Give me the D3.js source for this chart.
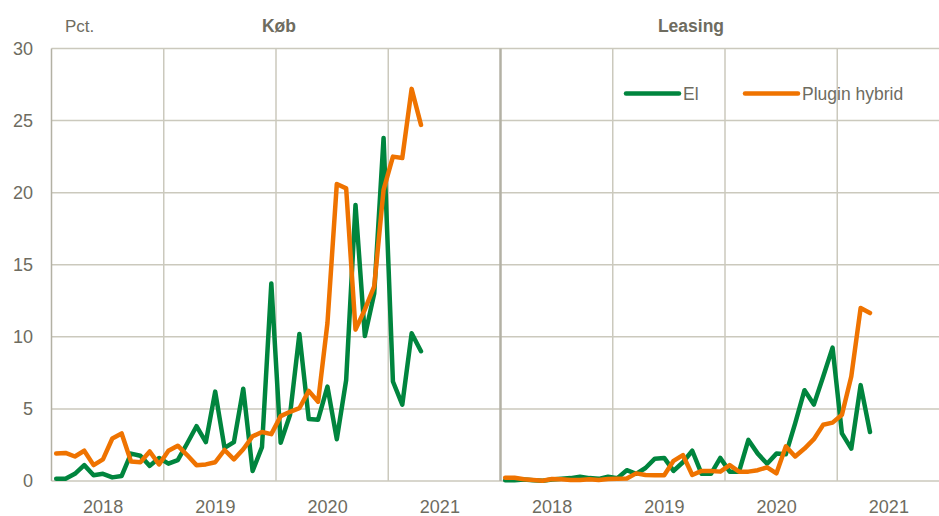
<!DOCTYPE html>
<html>
<head>
<meta charset="utf-8">
<script src="https://cdn.jsdelivr.net/npm/d3@7"></script>
<style>
  html, body { margin: 0; padding: 0; background: #fff; }
  svg { display: block; font-family: "Liberation Sans", Arial, sans-serif; }
</style>
</head>
<body>
<svg id="chart" width="939" height="516"></svg>
<script>
// ---- Data (monthly, Jan 2018 – Apr 2021), percent ----
const years = ["2018", "2019", "2020", "2021"];
const yTicks = [0, 5, 10, 15, 20, 25, 30];
const panels = ["Køb", "Leasing"];
const seriesNames = ["El", "Plugin hybrid"];

const koebEl = [0.15, 0.15, 0.5, 1.1, 0.4, 0.5, 0.25, 0.35, 1.9, 1.75, 1.05, 1.6,
                1.2, 1.45, 2.6, 3.8, 2.7, 6.2, 2.3, 2.7, 6.4, 0.7, 2.35, 13.7,
                2.65, 4.6, 10.2, 4.3, 4.25, 6.55, 2.9, 7.0, 19.15, 10.05, 13.0, 23.8,
                6.9, 5.3, 10.25, 9.0];
const koebPlugin = [1.9, 1.95, 1.7, 2.1, 1.1, 1.5, 2.95, 3.3, 1.35, 1.3, 2.05, 1.15,
                    2.1, 2.45, 1.8, 1.1, 1.15, 1.3, 2.15, 1.5, 2.2, 3.1, 3.4, 3.25,
                    4.5, 4.8, 5.05, 6.25, 5.5, 10.95, 20.6, 20.3, 10.5, 11.9, 13.5, 20.2,
                    22.5, 22.4, 27.2, 24.7];
const leasingEl = [0.05, 0.05, 0.1, 0.05, 0.02, 0.1, 0.15, 0.2, 0.3, 0.2, 0.15, 0.3,
                   0.2, 0.75, 0.5, 0.9, 1.55, 1.6, 0.7, 1.3, 2.1, 0.5, 0.5, 1.6,
                   0.65, 0.65, 2.85, 1.9, 1.2, 1.9, 1.85, 4.0, 6.3, 5.3, 7.25, 9.25,
                   3.3, 2.25, 6.65, 3.4];
const leasingPlugin = [0.23, 0.23, 0.12, 0.07, 0.02, 0.14, 0.12, 0.07, 0.07, 0.12, 0.07, 0.14,
                       0.16, 0.18, 0.53, 0.42, 0.4, 0.4, 1.4, 1.8, 0.42, 0.7, 0.7, 0.65,
                       1.1, 0.65, 0.65, 0.75, 0.95, 0.53, 2.4, 1.7, 2.25, 2.9, 3.9, 4.05,
                       4.6, 7.25, 12.0, 11.65];

const colors = { "El": "#00853e", "Plugin hybrid": "#ef7300" };
const textColor = "#6e6c5f";
const gridColor = "#cbc9bd";
const axisColor = "#b3b1a4";

const svg = d3.select("#chart");

const y = d3.scaleLinear().domain([0, 30]).range([481, 48.5]);

// panel x scales over month index (0..48 = 4 years)
const xLeft = d3.scaleLinear().domain([0, 48]).range([51.5, 500.5]);
const xRight = d3.scaleLinear().domain([0, 48]).range([500.5, 949.5]);

const panelDefs = [
  { name: panels[0], x: xLeft, data: { "El": koebEl, "Plugin hybrid": koebPlugin }, titleX: 279 },
  { name: panels[1], x: xRight, data: { "El": leasingEl, "Plugin hybrid": leasingPlugin }, titleX: 691 }
];

// horizontal gridlines
svg.append("g").selectAll("line").data(yTicks).join("line")
  .attr("x1", xLeft(0)).attr("x2", 939)
  .attr("y1", d => y(d)).attr("y2", d => y(d))
  .attr("stroke", gridColor).attr("stroke-width", 1.5);

// y-axis labels
svg.append("g").selectAll("text").data(yTicks).join("text")
  .attr("x", 33).attr("y", d => y(d)).attr("dy", "0.35em")
  .attr("text-anchor", "end")
  .attr("font-size", 18).attr("fill", textColor)
  .text(d => d);

svg.append("text").attr("x", 65).attr("y", 32)
  .attr("font-size", 17).attr("fill", textColor).text("Pct.");

panelDefs.forEach((p, pi) => {
  const g = svg.append("g");
  // vertical year gridlines
  const yearBounds = [12, 24, 36];
  g.selectAll("line.v").data(yearBounds).join("line")
    .attr("class", "v")
    .attr("x1", d => p.x(d)).attr("x2", d => p.x(d))
    .attr("y1", y(30)).attr("y2", y(0))
    .attr("stroke", gridColor).attr("stroke-width", 1.5);
  // panel left axis
  g.append("line")
    .attr("x1", p.x(0)).attr("x2", p.x(0))
    .attr("y1", y(30)).attr("y2", y(0))
    .attr("stroke", axisColor).attr("stroke-width", pi === 0 ? 1.5 : 2.5);

  // year labels
  g.selectAll("text.yr").data(years).join("text")
    .attr("class", "yr")
    .attr("x", (d, i) => p.x(i * 12 + 6) - 4.5)
    .attr("y", 513)
    .attr("text-anchor", "middle")
    .attr("font-size", 18).attr("fill", textColor)
    .text(d => d);

  // title
  g.append("text").attr("x", p.titleX).attr("y", 32)
    .attr("text-anchor", "middle").attr("font-weight", "bold")
    .attr("font-size", 17.5).attr("fill", textColor).text(p.name);

  // lines
  seriesNames.forEach(s => {
    const line = d3.line().x((d, i) => p.x(i + 0.5)).y(d => y(d));
    g.append("path").datum(p.data[s])
      .attr("d", line)
      .attr("fill", "none")
      .attr("stroke", colors[s])
      .attr("stroke-width", 4.5)
      .attr("stroke-linejoin", "round")
      .attr("stroke-linecap", "round");
  });
});

// legend
const legendItems = [
  { name: seriesNames[0], x1: 626, x2: 679, tx: 683 },
  { name: seriesNames[1], x1: 745, x2: 798, tx: 802 }
];
const lg = svg.append("g");
legendItems.forEach(it => {
  lg.append("line").attr("x1", it.x1).attr("x2", it.x2)
    .attr("y1", 93.5).attr("y2", 93.5)
    .attr("stroke", colors[it.name]).attr("stroke-width", 4.5)
    .attr("stroke-linecap", "round");
  lg.append("text").attr("x", it.tx).attr("y", 93.5).attr("dy", "0.35em")
    .attr("font-size", 17.5).attr("fill", textColor).text(it.name);
});
</script>
</body>
</html>
